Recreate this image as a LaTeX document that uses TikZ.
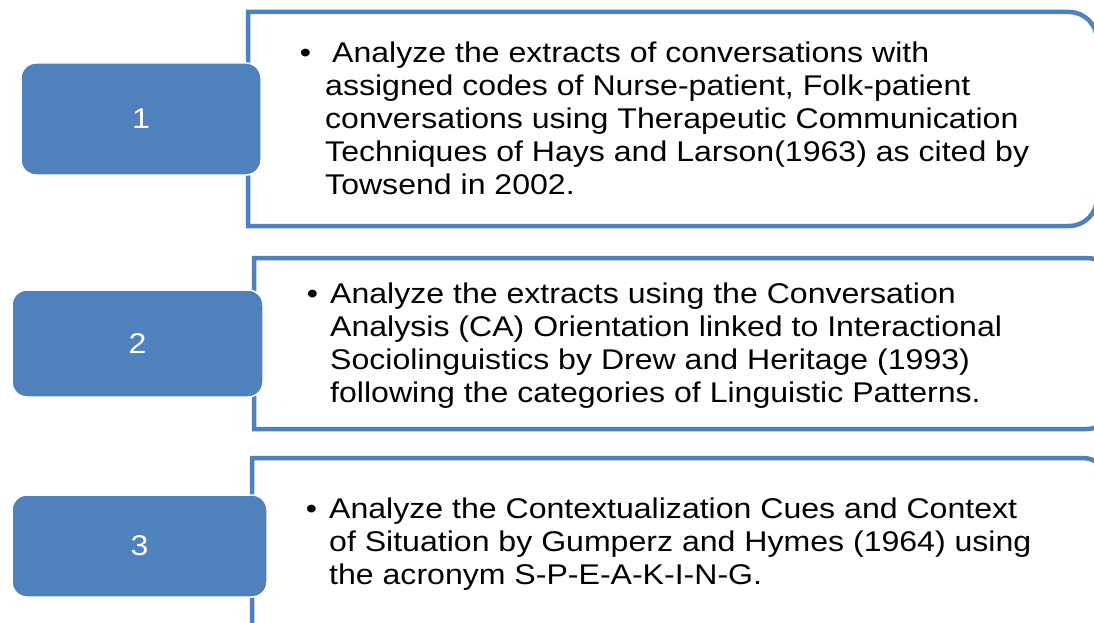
\documentclass[tikz,border=0pt]{standalone}
\usepackage{fontspec}
\setmainfont{Liberation Sans}
\newfontfamily\bodyfont[FakeStretch=1.125]{Liberation Sans}
\definecolor{accent}{HTML}{4F81BD}
\newcommand{\bulletmark}[1]{\llap{\textbullet\hspace{#1}}}

\begin{document}
\begin{tikzpicture}[x=1pt,y=-1pt,
  panel/.style={draw=accent, line width=4.5pt, fill=white},
  tab/.style={fill=accent, draw=white, line width=1.5pt, rounded corners=15pt,
              text=white, inner sep=0pt,
              font=\bodyfont\fontsize{28.5}{33}\selectfont},
  body/.style={anchor=base west, inner sep=0pt,
               font=\bodyfont\fontsize{28.5}{33}\selectfont}]
\useasboundingbox (0,0) rectangle (1094,623);
\clip (0,0) rectangle (1094,623);

% outlined panels, square on the left, rounded on the right
\draw[panel] (248,226) -- (248,12) -- (1069,12)
  arc[start angle=90, end angle=0, radius=28pt] -- (1097,198)
  arc[start angle=0, end angle=-90, radius=28pt] -- cycle;
\draw[panel] (254,429) -- (254,258) -- (1087,258)
  arc[start angle=90, end angle=0, radius=25pt] -- (1112,404)
  arc[start angle=0, end angle=-90, radius=25pt] -- cycle;
\draw[panel] (252,650) -- (252,458) -- (1083,458)
  arc[start angle=90, end angle=0, radius=25pt] -- (1108,625)
  arc[start angle=0, end angle=-90, radius=25pt] -- cycle;

% numbered tabs
\node[tab, minimum width=240pt, minimum height=112pt] (n1) at (141,119) {1};
\node[tab, minimum width=251pt, minimum height=107pt] (n2) at (137.5,343.5) {2};
\node[tab, minimum width=255pt, minimum height=102pt] (n3) at (139.5,546) {3};

% panel texts
\node[body] (t1) at (325,63) {\begin{tabular}[t]{@{}l@{}}
\bulletmark{14pt}\hspace*{7pt}Analyze the extracts of conversations with\\
assigned codes of Nurse-patient, Folk-patient\\
conversations using Therapeutic Communication\\
Techniques of Hays and Larson(1963) as cited by\\
Towsend in 2002.
\end{tabular}};

\node[body] (t2) at (330,303) {\begin{tabular}[t]{@{}l@{}}
\bulletmark{12pt}Analyze the extracts using the Conversation\\
Analysis (CA) Orientation linked to Interactional\\
Sociolinguistics by Drew and Heritage (1993)\\
following the categories of Linguistic Patterns.
\end{tabular}};

\node[body] (t3) at (329,518) {\begin{tabular}[t]{@{}l@{}}
\bulletmark{12pt}Analyze the Contextualization Cues and Context\\
of Situation by Gumperz and Hymes (1964) using\\
the acronym S-P-E-A-K-I-N-G.
\end{tabular}};
\end{tikzpicture}
\end{document}
